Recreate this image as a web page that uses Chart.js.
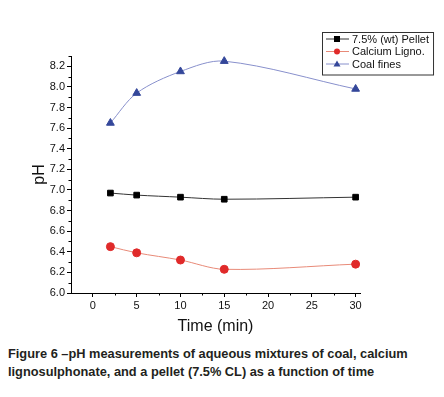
<!DOCTYPE html>
<html>
<head>
<meta charset="utf-8">
<script src="https://cdn.jsdelivr.net/npm/chart.js@4/dist/chart.umd.min.js"></script>
<style>
  body { margin: 0; background: #fff; width: 444px; height: 397px; overflow: hidden; }
  #wrap { position: relative; width: 444px; height: 340px; }
  #caption {
    position: absolute; left: 8px; top: 345px; width: 436px;
    font-family: "Liberation Sans", Arial, sans-serif; font-weight: bold;
    font-size: 12.8px; line-height: 18px; color: #231f20; white-space: nowrap;
  }
</style>
</head>
<body>
<div id="wrap"><canvas id="ph-chart" width="444" height="340"></canvas></div>
<div id="caption">Figure 6 –pH measurements of aqueous mixtures of coal, calcium<br>lignosulphonate, and a pellet (7.5% CL) as a function of time</div>
<script>
// time points (min)
const times = [2, 5, 10, 15, 30];
// pH values
const pelletPH = [6.97, 6.95, 6.93, 6.91, 6.93];
const lignoPH = [6.45, 6.39, 6.32, 6.23, 6.28];
const coalPH = [7.65, 7.94, 8.15, 8.25, 7.98];
const seriesLabels = ['7.5% (wt) Pellet', 'Calcium Ligno.', 'Coal fines'];
const xTicks = [0, 5, 10, 15, 20, 25, 30];
const yTicks = [6.0, 6.2, 6.4, 6.6, 6.8, 7.0, 7.2, 7.4, 7.6, 7.8, 8.0, 8.2];

const FONT = '"Liberation Sans", Arial, sans-serif';

const pts = vals => vals.map((v, i) => ({ x: times[i], y: v }));

// short minor ticks between the labelled ones
const minorTicks = {
  id: 'minorTicks',
  afterDraw(chart) {
    const ctx = chart.ctx;
    const xs = chart.scales.x, ys = chart.scales.y;
    ctx.save();
    ctx.strokeStyle = '#000';
    ctx.lineWidth = 1;
    ctx.beginPath();
    for (let v = 6.1; v < 8.35; v += 0.2) {
      const y = Math.round(ys.getPixelForValue(v)) + 0.5;
      ctx.moveTo(xs.left, y);
      ctx.lineTo(xs.left - 2.5, y);
    }
    for (let v = 2.5; v < 30.5; v += 5) {
      const x = Math.round(xs.getPixelForValue(v)) + 0.5;
      ctx.moveTo(x, ys.bottom);
      ctx.lineTo(x, ys.bottom + 2.5);
    }
    ctx.stroke();
    ctx.restore();
  }
};

// legend box with line + marker samples
const boxLegend = {
  id: 'boxLegend',
  afterDraw(chart) {
    const ctx = chart.ctx;
    ctx.save();
    ctx.font = '11px ' + FONT;
    const left = 322, top = 32, rowH = 12.5;
    let w = 0;
    chart.data.datasets.forEach(d => { w = Math.max(w, ctx.measureText(d.label).width); });
    ctx.strokeStyle = '#333';
    ctx.lineWidth = 1;
    ctx.strokeRect(left + 0.5, top + 0.5, 30 + w + 4, rowH * 3 + 5);
    chart.data.datasets.forEach((d, i) => {
      const y = top + 7 + i * rowH;
      ctx.strokeStyle = d.borderColor;
      ctx.beginPath();
      ctx.moveTo(left + 4, y);
      ctx.lineTo(left + 27, y);
      ctx.stroke();
      ctx.fillStyle = d.pointBackgroundColor;
      ctx.beginPath();
      const cx = left + 15;
      if (d.pointStyle === 'rect') ctx.rect(cx - 3, y - 3, 6, 6);
      else if (d.pointStyle === 'circle') ctx.arc(cx, y, 3, 0, Math.PI * 2);
      else { ctx.moveTo(cx, y - 3.5); ctx.lineTo(cx + 3.5, y + 2.5); ctx.lineTo(cx - 3.5, y + 2.5); ctx.closePath(); }
      ctx.fill();
      ctx.fillStyle = '#111';
      ctx.textBaseline = 'middle';
      ctx.fillText(d.label, left + 30, y + 0.5);
    });
    ctx.restore();
  }
};

new Chart(document.getElementById('ph-chart'), {
  type: 'line',
  data: {
    datasets: [{
      label: seriesLabels[0],
      data: pts(pelletPH),
      borderColor: '#333333',
      borderWidth: 1,
      pointStyle: 'rect',
      pointRadius: 4,
      pointBackgroundColor: '#000000',
      pointBorderColor: '#000000',
      tension: 0.32
    }, {
      label: seriesLabels[1],
      data: pts(lignoPH),
      borderColor: '#e88a78',
      borderWidth: 1,
      pointStyle: 'circle',
      pointRadius: 4,
      pointBackgroundColor: '#e02a2a',
      pointBorderColor: '#e02a2a',
      tension: 0.32
    }, {
      label: seriesLabels[2],
      data: pts(coalPH),
      borderColor: '#8890cc',
      borderWidth: 1,
      pointStyle: 'triangle',
      pointRadius: 4.5,
      pointBackgroundColor: '#34479a',
      pointBorderColor: '#34479a',
      tension: 0.32
    }]
  },
  options: {
    responsive: false,
    animation: false,
    layout: { padding: { top: 56, right: 84, left: 30, bottom: 0 } },
    plugins: { legend: { display: false }, tooltip: { enabled: false } },
    scales: {
      x: {
        type: 'linear',
        min: -2.5,
        max: 30.5,
        afterBuildTicks: s => { s.ticks = xTicks.map(v => ({ value: v })); },
        afterFit: s => { s.height = 47; },
        border: { color: '#000', width: 1 },
        grid: { drawOnChartArea: false, tickLength: 4, tickColor: '#000' },
        ticks: { color: '#111', font: { family: FONT, size: 11 }, padding: 2, maxRotation: 0 },
        title: { display: true, text: 'Time (min)', color: '#111', font: { family: FONT, size: 16 }, padding: { top: 2 } }
      },
      y: {
        min: 6.0,
        max: 8.3,
        afterBuildTicks: s => { s.ticks = yTicks.map(v => ({ value: v })); },
        afterFit: s => { s.width = 41; },
        border: { color: '#000', width: 1 },
        grid: { drawOnChartArea: false, tickLength: 4, tickColor: '#000' },
        ticks: { color: '#111', font: { family: FONT, size: 11 }, padding: 2, callback: v => v.toFixed(1) },
        title: { display: true, text: 'pH', color: '#111', font: { family: FONT, size: 16 }, padding: 0 }
      }
    }
  },
  plugins: [minorTicks, boxLegend]
});
</script>
</body>
</html>
